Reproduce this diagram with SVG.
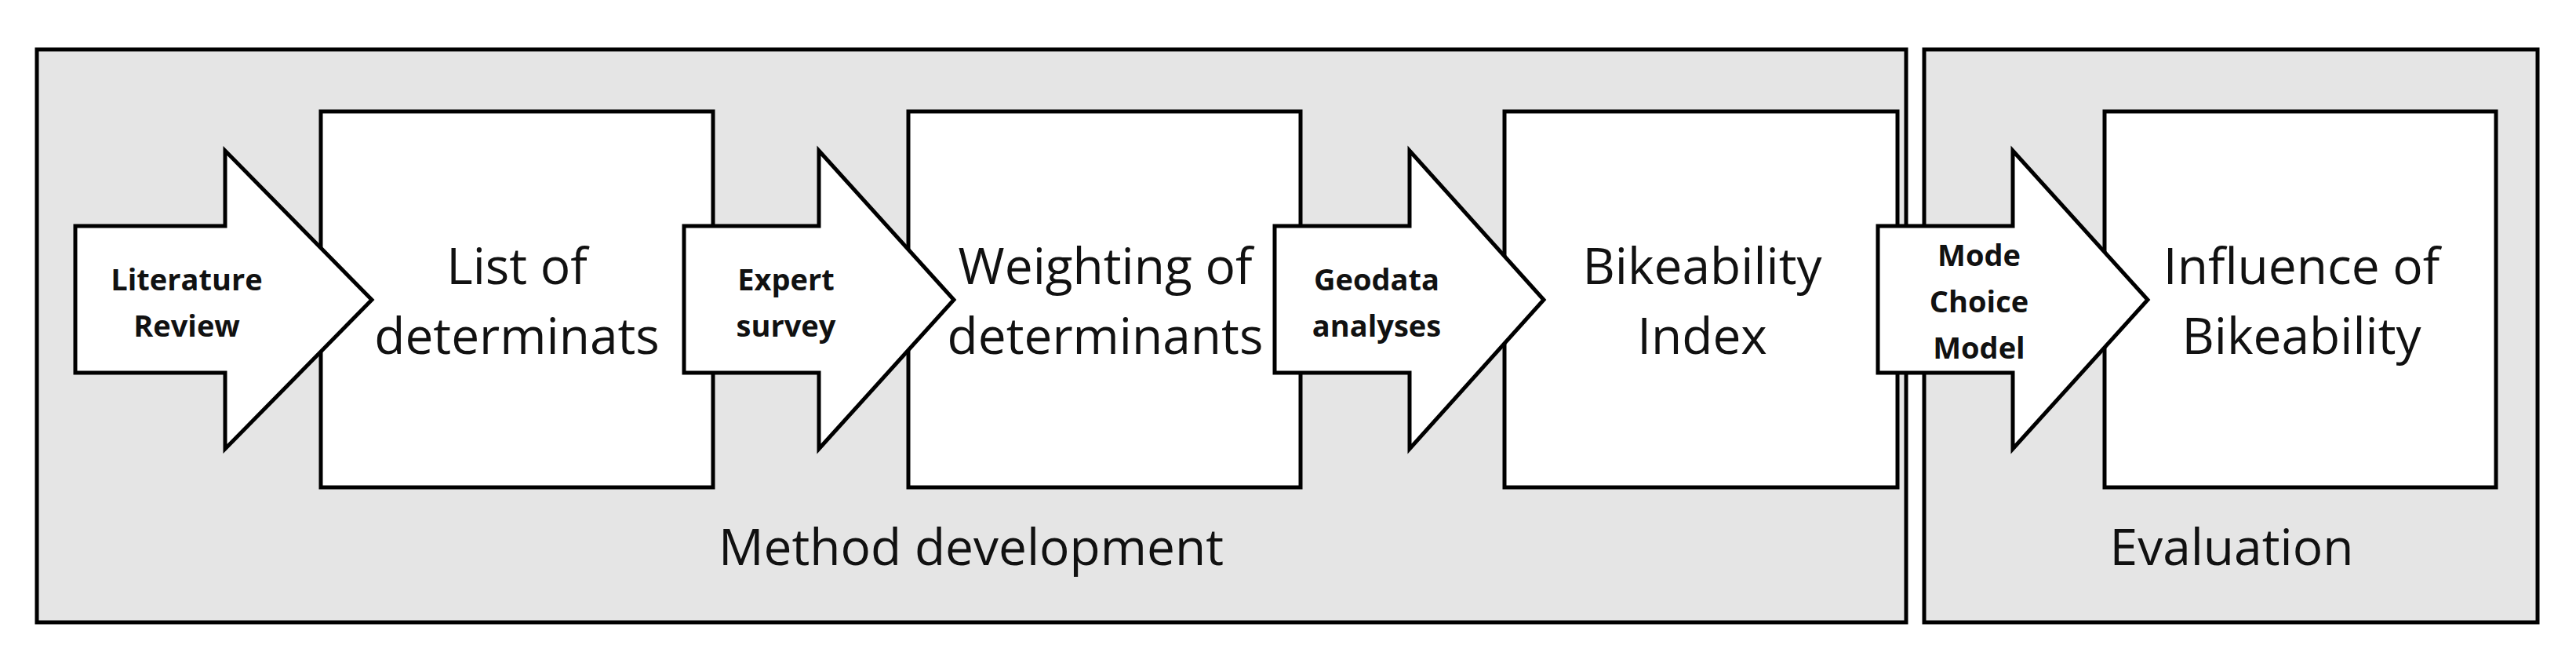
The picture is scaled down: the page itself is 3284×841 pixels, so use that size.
<svg xmlns="http://www.w3.org/2000/svg" width="3284" height="841" viewBox="0 0 3284 841">
<style>
.grp{fill:#e5e5e5;stroke:#000;stroke-width:5}
.box{fill:#fff;stroke:#000;stroke-width:5}
.arr{fill:#fff;stroke:#000;stroke-width:5;stroke-linejoin:miter}
.big{font-family:"Open Sans","Liberation Sans",sans-serif;font-size:64px;text-anchor:middle;fill:#111}
.sm{font-family:"Open Sans","Liberation Sans",sans-serif;font-size:38px;font-weight:bold;text-anchor:middle;fill:#111}
</style>
<rect width="3284" height="841" fill="#fff"/>
<g id="method-development"><rect class="grp" x="47" y="63" width="2383" height="730"/><text class="big" x="1238" y="720">Method development</text></g>
<g id="evaluation"><rect class="grp" x="2453" y="63" width="782" height="730"/><text class="big" x="2845" y="720">Evaluation</text></g>
<g id="list"><rect class="box" x="409" y="142" width="500" height="479"/><text class="big" x="659" y="362">List of</text><text class="big" x="659" y="451">determinats</text></g>
<g id="weighting"><rect class="box" x="1158" y="142" width="500" height="479"/><text class="big" x="1409" y="362">Weighting of</text><text class="big" x="1409" y="451">determinants</text></g>
<g id="index"><rect class="box" x="1918" y="142" width="501" height="479"/><text class="big" x="2170" y="362">Bikeability</text><text class="big" x="2170" y="451">Index</text></g>
<g id="influence"><rect class="box" x="2683" y="142" width="499" height="479"/><text class="big" x="2934" y="362">Influence of</text><text class="big" x="2934" y="451">Bikeability</text></g>
<g id="connectors">
<g id="a1"><polygon class="arr" points="96,288 287,288 287,192 474,382 287,572 287,475 96,475"/><text class="sm" x="238" y="370">Literature</text><text class="sm" x="238" y="429">Review</text></g>
<g id="a2"><polygon class="arr" points="872,288 1044,288 1044,192 1216,382 1044,572 1044,475 872,475"/><text class="sm" x="1002" y="370">Expert</text><text class="sm" x="1002" y="429">survey</text></g>
<g id="a3"><polygon class="arr" points="1625,288 1797,288 1797,192 1968,382 1797,572 1797,475 1625,475"/><text class="sm" x="1755" y="370">Geodata</text><text class="sm" x="1755" y="429">analyses</text></g>
<g id="a4"><polygon class="arr" points="2394,288 2566,288 2566,192 2738,382 2566,572 2566,475 2394,475"/><text class="sm" x="2523" y="339">Mode</text><text class="sm" x="2523" y="398">Choice</text><text class="sm" x="2523" y="457">Model</text></g>
</g>
</svg>
